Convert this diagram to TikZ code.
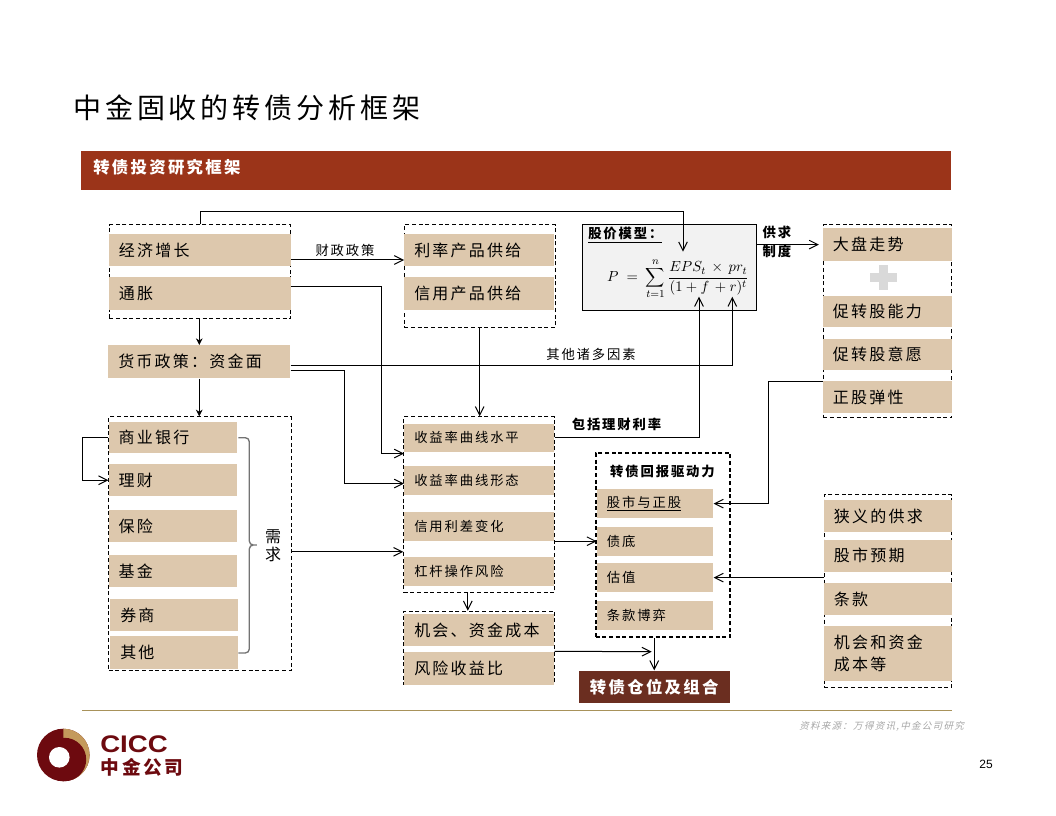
\documentclass[tikz,border=0pt]{standalone}
\usepackage[no-math]{fontspec}
\usepackage{color}
\usetikzlibrary{arrows.meta}
\setmainfont[LetterSpace=14]{Noto Sans CJK SC}
\newfontfamily\numfont{Liberation Sans}
\newfontfamily\logofont[FakeStretch=1.15]{Liberation Sans}
\newfontfamily\srcfont[FakeSlant=0.25,LetterSpace=14]{Noto Sans CJK SC}
\definecolor{bandtan}{HTML}{DDC8AD}
\definecolor{bannerred}{HTML}{9B3419}
\definecolor{posbrown}{HTML}{6B2E20}
\definecolor{logored}{HTML}{6D0A0F}
\definecolor{logotan}{HTML}{C49A5C}
\definecolor{rulegold}{HTML}{A8925A}
\tikzset{
  dashbox/.style={draw,line width=.75pt,dash pattern=on 3pt off 2pt,anchor=north west,inner sep=0pt},
  band/.style={fill=bandtan,anchor=north west,inner ysep=0pt,inner xsep=7.5pt,align=left},
  biglabel/.style={font=\fontsize{12}{16.5}\selectfont},
  smalllabel/.style={font=\fontsize{10}{13}\selectfont},
  boldlabel/.style={font=\fontsize{10}{13}\selectfont\bfseries},
  arr/.style={-{Straight Barb[length=6.5pt,width=6.5pt]},line width=.75pt},
  solidarr/.style={-{Stealth[length=5pt,width=5pt]},line width=.75pt}
}
\begin{document}
\begin{tikzpicture}[x=.75pt,y=-.75pt]
    \useasboundingbox (0,0) rectangle (1056,816);

    \node[anchor=west,inner sep=0pt,font=\fontsize{21}{24}\selectfont] (title) at (73,108) {中金固收的转债分析框架};
    \node[fill=bannerred,anchor=north west,minimum width=652.5pt,minimum height=29.25pt,inner sep=0pt] (banner) at (81,151) {};
    \node[anchor=west,inner sep=0pt,text=white,font=\fontsize{12.3}{14}\selectfont\bfseries] (bannertext) at (93,167) {转债投资研究框架};

    % dashed groups
    \foreach \name/\x/\y/\w/\h in {econbox/108.7/224.3/181.6/94, ratebox/403.7/224.3/151/103,
      demandbox/108.3/416.3/182.4/254, yieldbox/403.3/416.3/151/176, oppbox/403.3/610.7/151/73.6,
      marketbox/822.7/224.3/128.6/193, supplybox/823.7/494/127.6/193}
    {
      \node[dashbox,minimum width=\w*.75pt,minimum height=\h*.75pt] (\name) at (\x,\y) {};
    }
    \node[dashbox,line width=1.5pt,minimum width=101pt,minimum height=138pt] (drivebox) at (594.7,452) {};
    \node[draw,fill=black!5,line width=.75pt,anchor=north west,inner sep=0pt,minimum width=130.5pt,minimum height=64.5pt] (model) at (581.7,224.3) {};

    % big bands
    \foreach \name/\x/\y/\w/\h/\txt in {gdp/108.7/234/181.6/32/经济增长, cpi/108.7/277/181.6/33/通胀,
      money/108/345/182/33/货币政策：资金面, ratesupply/404/234/150/32/利率产品供给,
      creditsupply/404/277/150/33/信用产品供给, bank/108.3/421.3/128.7/31.4/商业银行,
      wealth/108.3/464/128.7/32/理财, insure/108.3/510/128.7/31.7/保险, fund/108.3/555/128.7/31.7/基金,
      broker/110/599/127.7/31.7/券商, others/110/636/127.7/32.7/其他, chance/404/614/150/31.3/机会、资金成本,
      risk/404/651.3/150/33/风险收益比, market/822.7/228/128.6/32.7/大盘走势,
      ability/822.7/295.3/128.6/31.4/促转股能力, will/822.7/338.3/128.6/31.7/促转股意愿,
      elastic/822.7/381/128.6/31.7/正股弹性, narrow/823.7/500/127.6/31.7/狭义的供求,
      expect/823.7/539.3/127.6/32.4/股市预期, terms/823.7/583/127.6/31.7/条款,
      funding/823.7/626/127.6/54.7/{机会和资金\\成本等}}
    {
      \node[band,biglabel,text width=(\w-20)*.75pt,minimum height=\h*.75pt] (\name) at (\x,\y) {\txt};
    }
    % small bands
    \foreach \name/\x/\y/\w/\h/\txt in {level/404/423.3/150/28.4/收益率曲线水平, shape/404/466/150/28.7/收益率曲线形态,
      spread/404/512/150/28.7/信用利差变化, leverage/404/557/150/28.7/杠杆操作风险,
      stock/596.7/489/116.3/28.7/\underline{股市与正股}, bond/596.7/527/116.3/28.7/债底,
      value/596.7/563/116.3/28.7/估值, game/596.7/601/116.3/28.7/条款博弈}
    {
      \node[band,smalllabel,text width=(\w-20)*.75pt,minimum height=\h*.75pt] (\name) at (\x,\y) {\txt};
    }
    \node[fill=posbrown,text=white,anchor=north west,minimum width=113.5pt,minimum height=24.3pt,inner sep=0pt,
      font=\fontsize{12.3}{14}\selectfont\bfseries] (position) at (578.3,670.3) {转债仓位及组合};

    % model box
    \node[anchor=west,inner sep=0pt,boldlabel] (modeltitle) at (588,235) {\underline{股价模型：}};
    \node[font=\fontsize{11}{13}\selectfont,inner sep=0pt] (formula) at (678,279) {$P\;=\;\displaystyle\sum_{t=1}^{n}\frac{EPS_t\,\times\,pr_t}{(1+f\,+r)^t}$};

    % labels
    \node[smalllabel] (fiscal) at (345,250) {财政政策};
    \node[smalllabel] (otherfactors) at (591,354) {其他诸多因素};
    \node[boldlabel] (wealthrate) at (616.5,424) {包括理财利率};
    \node[boldlabel] (drivetitle) at (662.5,471.5) {转债回报驱动力};
    \node[boldlabel] (supplylabel) at (777,232) {供求};
    \node[boldlabel] (rulelabel) at (777,251.5) {制度};
    \node[biglabel,align=center,font=\fontsize{12}{13.5}\selectfont] (needlabel) at (273,546) {需\\求};
    \fill[black!15] (869.5,273.5) rectangle (896.5,282.5);
    \fill[black!15] (878.5,265) rectangle (887.5,290);

    % free arrow ends in the model box
    \coordinate (tipeps) at (683,251.7);
    \coordinate (tipf) at (699,296.7);
    \coordinate (tipr) at (732.3,296.7);
    \coordinate (posin) at (651.7,651.7);

    % connectors
    \draw[arr] (econbox.north) -- ++(0,-13) -| (tipeps);
    \draw[solidarr] (money.north |- econbox.south) -- (money.north);
    \draw[solidarr] (money.south) -- (money.south |- demandbox.north);
    \draw[arr] ([yshift=-7.3pt]gdp.east) -- ([yshift=-7.3pt]ratesupply.west);
    \draw[arr] ([yshift=5.4pt]cpi.east) -- ++(90.7,0) |- ([yshift=-11.85pt]level.west);
    \draw[arr] ([yshift=-2.85pt]money.east) -| (tipr);
    \draw[arr] ([yshift=-6.9pt]money.east) -- ++(53.7,0) |- ([yshift=-2.2pt]shape.west);
    \draw[arr] (bank.west) -- ++(-26,0) |- (wealth.west);
    \draw[arr] ([yshift=-6pt]demandbox.east) -- ([yshift=-35.25pt]yieldbox.west);
    \draw[arr] (ratebox.south) -- (ratebox.south |- yieldbox.north);
    \draw[arr] ([xshift=-8.6pt]yieldbox.south) -- ([xshift=-8.6pt]oppbox.north);
    \draw[arr] (level.east) -| (tipf);
    \draw[arr] (spread.south east) -- (spread.south east -| bond.west);
    \draw[arr] (risk.north east) -- (posin);
    \draw[arr] (position.north |- drivebox.south) -- (position.north);
    \draw[arr] (elastic.north west) -- ++(-54.4,0) |- (stock.east);
    \draw[arr] (supplybox.west |- value.east) -- (value.east);
    \draw[arr] (model.east |- market.west) -- ([xshift=-2.8pt]market.west);

    % brace
    \draw[black!55,line width=1pt,rounded corners=3pt] (238.3,437.7) -- (249.3,437.7) -- (249.3,545) -- (259.3,545) -- (249.3,545) -- (249.3,653) -- (238.3,653);

    % footer
    \draw[rulegold,line width=.75pt] (82,710.5) -- (951.7,710.5);
    \node[anchor=west,inner sep=0pt,text=black!35,font=\fontsize{7.1}{9}\selectfont\srcfont] (source) at (799,726) {资料来源：万得资讯,中金公司研究};
    \node[font=\fontsize{9}{11}\selectfont\numfont] (pagenum) at (986,764) {25};

    % logo
    \fill[logored] (63.3,755) circle (26.3);
    \fill[logotan] (63.3,755) -- (63.3,728.7) arc[start angle=-90,end angle=70,radius=26.3] -- cycle;
    \fill[logored] (64.5,759.5) circle (21.7);
    \fill[white] (59.3,757.3) circle (10.3);
    \node[anchor=west,text=logored,inner sep=0pt,font=\fontsize{18}{22}\selectfont\logofont\bfseries] (logotext) at (100,744) {CICC};
    \node[anchor=west,text=logored,inner sep=0pt,font=\fontsize{14}{16}\selectfont\bfseries] (logocn) at (100.5,767.5) {中金公司};
\end{tikzpicture}
\end{document}
